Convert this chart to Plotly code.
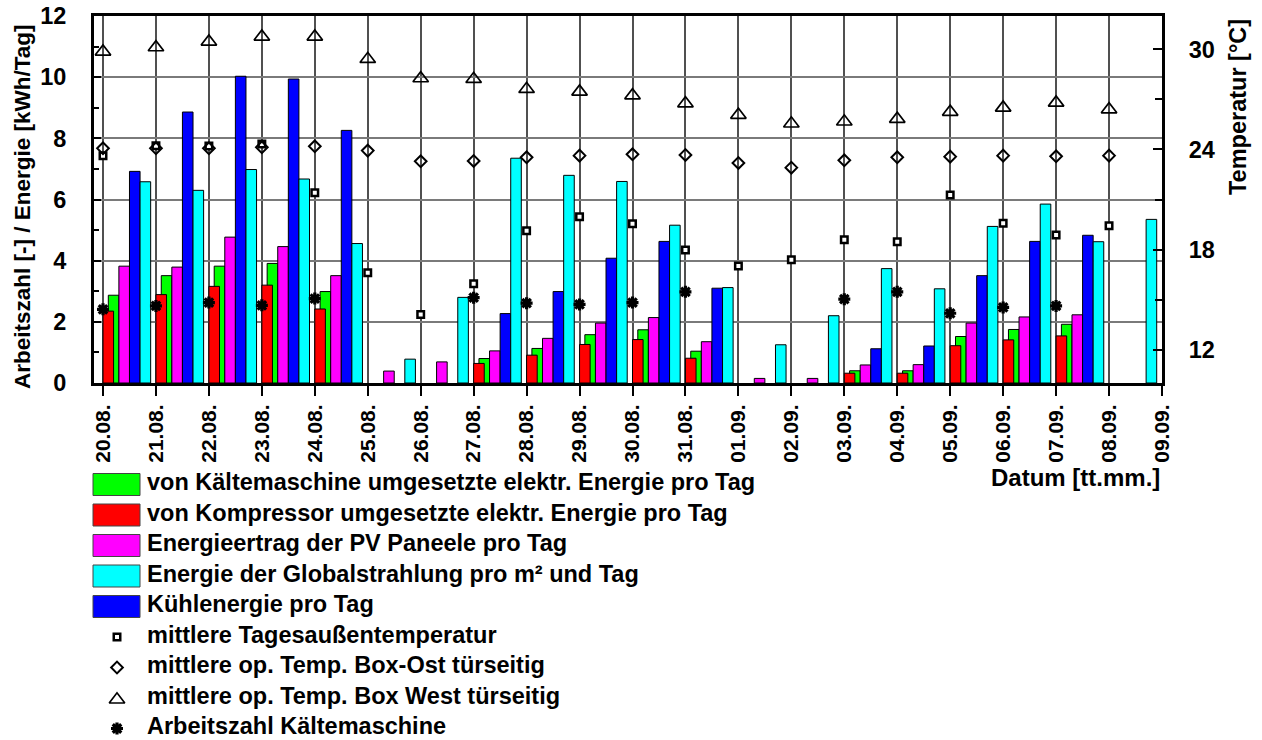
import plotly.graph_objects as go

# ---------------------------------------------------------------- data
dates = ["20.08.", "21.08.", "22.08.", "23.08.", "24.08.", "25.08.", "26.08.",
         "27.08.", "28.08.", "29.08.", "30.08.", "31.08.", "01.09.", "02.09.",
         "03.09.", "04.09.", "05.09.", "06.09.", "07.09.", "08.09.", "09.09."]

# daily energies [kWh/Tag]
kaeltemaschine = [2.87, 3.51, 3.82, 3.91, 2.99, None, None, 0.80, 1.13, 1.58, 1.74,
                  1.04, None, None, 0.40, 0.40, 1.52, 1.75, 1.92, None, None]
kompressor = [2.35, 2.89, 3.16, 3.20, 2.42, None, None, 0.64, 0.91, 1.26, 1.42,
              0.81, None, None, 0.32, 0.32, 1.22, 1.41, 1.54, None, None]
pv_ertrag = [3.82, 3.79, 4.77, 4.46, 3.51, 0.39, 0.69, 1.05, 1.46, 1.96, 2.14,
             1.35, 0.15, 0.15, 0.59, 0.60, 1.96, 2.16, 2.23, None, None]
globalstrahlung = [6.58, 6.30, 6.98, 6.67, 4.56, 0.78, 2.80, 7.35, 6.79, 6.59, 5.16,
                   3.12, 1.25, 2.20, 3.74, 3.08, 5.12, 5.85, 4.62, 5.35, None]
kuehlenergie = [6.92, 8.86, 10.03, 9.94, 8.26, None, None, 2.27, 2.99, 4.08, 4.63,
                3.10, None, None, 1.12, 1.21, 3.51, 4.63, 4.83, None, None]

# daily mean temperatures [°C]
t_aussen = [23.63, 24.22, 24.20, 24.33, 21.41, 16.61, 14.10, 15.95, 19.13, 19.97, 19.55,
            17.97, 17.01, 17.39, 18.59, 18.47, 21.27, 19.57, 18.87, 19.43, None]
t_ost = [24.07, 24.07, 24.07, 24.13, 24.19, 23.93, 23.29, 23.31, 23.53, 23.63, 23.71,
         23.67, 23.19, 22.91, 23.35, 23.53, 23.57, 23.63, 23.59, 23.63, None]
t_west = [29.86, 30.12, 30.46, 30.76, 30.76, 29.42, 28.26, 28.22, 27.62, 27.46, 27.24,
          26.76, 26.07, 25.55, 25.67, 25.83, 26.25, 26.50, 26.80, 26.40, None]

# coefficient of performance [-]
arbeitszahl = [2.41, 2.52, 2.63, 2.54, 2.76, None, None, 2.79, 2.61, 2.57, 2.63,
               2.98, None, None, 2.74, 2.98, 2.28, 2.47, 2.52, None, None]

y_left_ticks = [0, 2, 4, 6, 8, 10, 12]
y_right_ticks = [12, 18, 24, 30]

labels = [
    "von Kältemaschine umgesetzte elektr. Energie pro Tag",
    "von Kompressor umgesetzte elektr. Energie pro Tag",
    "Energieertrag der PV Paneele pro Tag",
    "Energie der Globalstrahlung pro m² und Tag",
    "Kühlenergie pro Tag",
    "mittlere Tagesaußentemperatur",
    "mittlere op. Temp. Box-Ost türseitig",
    "mittlere op. Temp. Box West türseitig",
    "Arbeitszahl Kältemaschine",
]

# ---------------------------------------------------------------- styling
FONT = "Liberation Sans, Arial, sans-serif"
W, H = 1262, 740
GREEN, RED, MAGENTA, CYAN, BLUE = "#00ff00", "#ff0000", "#ff00ff", "#00ffff", "#0000ff"


def bold(size):
    return dict(family=FONT, size=size, color="black", weight="bold")


# plot frame in pixels
PX_L, PX_R, PX_T, PX_B = 94, 1162, 16, 383

SQ = dict(symbol="square", size=6.5, color="white", line=dict(color="black", width=2.5))
DIA = dict(symbol="diamond-open", size=9, color="black", line=dict(color="black", width=2))
TRI = dict(symbol="triangle-up-open", size=13.5, color="black", line=dict(color="black", width=1.7))
AST = dict(symbol="asterisk", size=10, color="black", line=dict(color="black", width=3.2))

fig = go.Figure()

# bars: each day carries five narrow bars; the green one sits behind the red one
bar_specs = [
    (kaeltemaschine, GREEN, 0.1),
    (kompressor, RED, 0.0),
    (pv_ertrag, MAGENTA, 0.3),
    (kuehlenergie, BLUE, 0.5),
    (globalstrahlung, CYAN, 0.7),
]
for vals, col, off in bar_specs:
    fig.add_trace(go.Bar(
        x=dates, y=vals, offset=off, width=0.2,
        marker=dict(color=col, line=dict(color="black", width=1)),
        showlegend=False, xaxis="x", yaxis="y", hoverinfo="x+y",
    ))

fig.add_trace(go.Scatter(x=dates, y=arbeitszahl, mode="markers", marker=AST,
                         showlegend=False, xaxis="x", yaxis="y"))
fig.add_trace(go.Scatter(x=dates, y=t_aussen, mode="markers", marker=SQ,
                         showlegend=False, xaxis="x", yaxis="y2"))
fig.add_trace(go.Scatter(x=dates, y=t_ost, mode="markers", marker=DIA,
                         showlegend=False, xaxis="x", yaxis="y2"))
fig.add_trace(go.Scatter(x=dates, y=t_west, mode="markers", marker=TRI,
                         showlegend=False, xaxis="x", yaxis="y2"))

# ---------------------------------------------------------------- legend (pixel overlay)
row_y0, row_step = 484.5, 30.5
key_x0, key_x1, key_cx, text_x = 93, 140, 117, 145
bar_colors = [GREEN, RED, MAGENTA, CYAN, BLUE]
shapes = []
annotations = []
for i, lab in enumerate(labels):
    cy = row_y0 + i * row_step
    if i < len(bar_colors):
        shapes.append(dict(type="rect", xref="x2", yref="y3",
                           x0=key_x0, x1=key_x1, y0=cy - 11, y1=cy + 11,
                           fillcolor=bar_colors[i], line=dict(color="#444", width=1),
                           layer="above"))
    annotations.append(dict(xref="x2", yref="y3", x=text_x, y=cy - 2.5, text=lab,
                            showarrow=False, xanchor="left", yanchor="middle",
                            font=bold(23.5)))

for k, mk in enumerate([SQ, DIA, TRI, AST]):
    cy = row_y0 + (5 + k) * row_step
    fig.add_trace(go.Scatter(x=[key_cx], y=[cy + (1.6 if mk is TRI else 0)], mode="markers",
                             marker=mk, showlegend=False, hoverinfo="skip",
                             xaxis="x2", yaxis="y3"))

# axis titles
annotations += [
    dict(xref="x2", yref="y3", x=22, y=207, text="Arbeitszahl [-] / Energie [kWh/Tag]",
         textangle=-90, showarrow=False, xanchor="center", yanchor="middle", font=bold(22.5)),
    dict(xref="x2", yref="y3", x=1238, y=107, text="Temperatur [°C]",
         textangle=-90, showarrow=False, xanchor="center", yanchor="middle", font=bold(23.5)),
    dict(xref="x2", yref="y3", x=1162, y=477, text="Datum [tt.mm.]",
         showarrow=False, xanchor="right", yanchor="middle", font=bold(24)),
]

x_dom = [PX_L / W, PX_R / W]
y_dom = [(H - PX_B) / H, (H - PX_T) / H]

fig.update_layout(
    width=W, height=H,
    margin=dict(l=0, r=0, t=0, b=0),
    paper_bgcolor="white", plot_bgcolor="rgba(0,0,0,0)",
    barmode="overlay",
    showlegend=False,
    font=dict(family=FONT, color="black"),
    xaxis=dict(
        type="category", categoryorder="array", categoryarray=dates,
        domain=x_dom, range=[-0.17, len(dates) - 1], anchor="y",
        tickangle=-90, tickfont=bold(21),
        ticks="outside", ticklen=10, tickwidth=2, tickcolor="black",
        showgrid=True, gridcolor="#505050", gridwidth=1.5,
        showline=True, linecolor="black", linewidth=3, mirror=True,
        zeroline=False, automargin=False, fixedrange=True,
    ),
    yaxis=dict(
        domain=y_dom, range=[0, 12], tickvals=y_left_ticks, anchor="x",
        ticks="inside", ticklen=7, tickwidth=2, tickcolor="black",
        minor=dict(dtick=1, ticks="inside", ticklen=5, tickwidth=1.5, tickcolor="black",
                   showgrid=False),
        tickfont=bold(23.5), ticklabelstandoff=20,
        showgrid=True, gridcolor="#7a7a7a", gridwidth=1.5,
        showline=True, linecolor="black", linewidth=3, mirror=True,
        zeroline=False, automargin=False, fixedrange=True,
    ),
    yaxis2=dict(
        overlaying="y", side="right", anchor="x", range=[10, 32], tickvals=y_right_ticks,
        ticks="inside", ticklen=9, tickwidth=2, tickcolor="black",
        minor=dict(tick0=0, dtick=3, ticks="inside", ticklen=7, tickwidth=1.5,
                   tickcolor="black", showgrid=False),
        tickfont=bold(23.5), ticklabelstandoff=19,
        showgrid=False, showline=True, linecolor="black", linewidth=3,
        zeroline=False, automargin=False, fixedrange=True,
    ),
    xaxis2=dict(domain=[0, 1], range=[0, W], anchor="y3", visible=False, fixedrange=True),
    yaxis3=dict(domain=[0, 1], range=[H, 0], anchor="x2", visible=False, fixedrange=True),
    shapes=shapes,
    annotations=annotations,
)

fig.write_html("out.html")
